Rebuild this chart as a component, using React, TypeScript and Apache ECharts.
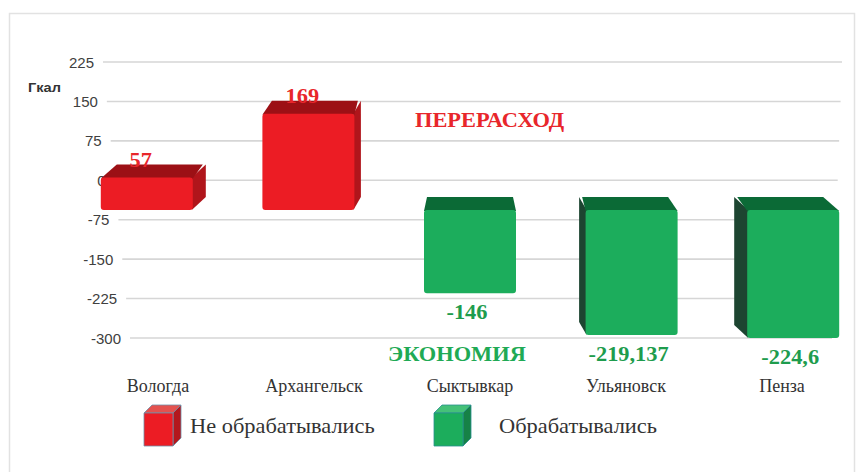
import React, { useEffect, useRef } from 'react';
import * as echarts from 'echarts';

const categories = ['Вологда', 'Архангельск', 'Сыктывкар', 'Ульяновск', 'Пенза'];
const values = [57, 169, -146, -219.137, -224.6];
const seriesNames = ['Не обрабатывались', 'Обрабатывались'];
const yTicks = [225, 150, 75, 0, -75, -150, -225, -300];
const yMin = -300;
const yMax = 225;
const yStep = 75;
const unitLabel = 'Гкал';
const overLabel = 'ПЕРЕРАСХОД';
const saveLabel = 'ЭКОНОМИЯ';

const RED = { front: '#EC1C24', top: '#9C1015', side: '#B0151B', label: '#E8262B', cubeTop: '#E4524F', cubeSide: '#B3171D', edge: '#6F8FA8' };
const GREEN = { front: '#1CAD5C', top: '#0B6A36', side: '#1D4531', label: '#1E9C4D', cubeTop: '#45C178', cubeSide: '#168246', edge: '#2A8F8F' };

const SERIF = '"Liberation Serif", "Times New Roman", serif';
const SANS = '"Liberation Sans", Arial, sans-serif';
const STRETCH = 1.12;

const fmt = (v: number) => String(v).replace('.', ',');

const makeRender = (pal: typeof RED) => (params: any, api: any) => {
  const i = api.value(0);
  const v = api.value(1);
  const c0 = api.coord([i, 0]);
  const c1 = api.coord([i, v]);
  const cx = c0[0] + (i - 2) * 5.6;
  const hw = 46;
  const x0 = cx - hw;
  const x1 = cx + hw;
  const yTop = Math.min(c0[1], c1[1]);
  const yBot = Math.max(c0[1], c1[1]);
  const ox = (2 - i) * 6.5;
  const oy = -13;
  const children: any[] = [];
  if (ox > 0) {
    children.push({
      type: 'polygon',
      shape: { points: [[x1 - 1, yTop], [x1 + ox, yTop + oy], [x1 + ox, yBot + oy], [x1 - 1, yBot]] },
      style: { fill: pal.side },
    });
  } else if (ox < 0) {
    children.push({
      type: 'polygon',
      shape: { points: [[x0 + 1, yTop], [x0 + ox, yTop + oy], [x0 + ox, yBot + oy], [x0 + 1, yBot]] },
      style: { fill: pal.side },
    });
  }
  children.push({
    type: 'polygon',
    shape: { points: [[x0, yTop + 1], [x0 + ox + 3, yTop + oy], [x1 + ox - 3, yTop + oy], [x1, yTop + 1]] },
    style: { fill: pal.top },
  });
  children.push({
    type: 'rect',
    shape: { x: x0, y: yTop, width: x1 - x0, height: yBot - yTop, r: 3 },
    style: { fill: pal.front },
  });
  const pos = v >= 0;
  children.push({
    type: 'text',
    x: cx - (pos ? 6 : 3),
    y: pos ? yTop + oy - 4 : yBot + 19,
    scaleX: STRETCH,
    style: {
      text: fmt(v),
      x: 0,
      y: 0,
      fill: pal.label,
      font: `bold 20px ${SERIF}`,
      align: 'center',
      verticalAlign: 'middle',
    },
  });
  return { type: 'group', children };
};

// back wall in perspective: gridlines shift right as values go down
const renderWall = (params: any, api: any) => {
  const v = api.value(0);
  const p = api.coord([0, v]);
  const cs = params.coordSys;
  const t = (yMax - v) / (yMax - yMin);
  const xs = cs.x + t * 27;
  const xe = cs.x + cs.width - t * 10;
  return {
    type: 'group',
    children: [
      { type: 'line', shape: { x1: xs, y1: p[1], x2: xe, y2: p[1] }, style: { stroke: '#d6d6d6', lineWidth: 1.6 } },
      {
        type: 'text',
        style: { text: String(v), x: xs - 9, y: p[1], fill: '#404040', font: `15px ${SANS}`, align: 'right', verticalAlign: 'middle' },
      },
    ],
  };
};

const cube = (x: number, y: number, pal: typeof RED) => ({
  type: 'group',
  x,
  y,
  children: [
    { type: 'polygon', shape: { points: [[0, 8], [8, 0], [37, 0], [29, 8]] }, style: { fill: pal.cubeTop, stroke: pal.edge, lineWidth: 0.8 } },
    { type: 'polygon', shape: { points: [[29, 8], [37, 0], [37, 33], [29, 41]] }, style: { fill: pal.cubeSide, stroke: pal.edge, lineWidth: 0.8 } },
    { type: 'rect', shape: { x: 0, y: 8, width: 29, height: 33 }, style: { fill: pal.front, stroke: pal.edge, lineWidth: 0.8 } },
  ],
});

export default function App() {
  const ref = useRef<HTMLDivElement>(null);
  useEffect(() => {
    if (!ref.current) return;
    const chart = echarts.init(ref.current, null, { renderer: 'svg' });
    const posData = values.map((v, i) => [i, v]).filter((d) => d[1] >= 0);
    const negData = values.map((v, i) => [i, v]).filter((d) => d[1] < 0);
    chart.setOption({
      animation: false,
      backgroundColor: '#ffffff',
      grid: [
        { left: 103, right: 18, top: 62, bottom: 134 },
        { left: 80, width: 788, top: 81.75, bottom: 102.4 },
      ],
      xAxis: [
        { type: 'value', gridIndex: 0, show: false, min: 0, max: 1 },
        {
          type: 'category',
          gridIndex: 1,
          data: categories,
          axisLine: { show: false },
          axisTick: { show: false },
          axisLabel: { color: '#333333', fontFamily: SERIF, fontSize: 18, margin: 7 },
          splitLine: { show: false },
        },
      ],
      yAxis: [
        {
          type: 'value',
          gridIndex: 0,
          min: yMin,
          max: yMax,
          interval: yStep,
          axisLine: { show: false },
          axisTick: { show: false },
          axisLabel: { show: false },
          splitLine: { show: false },
        },
        { type: 'value', gridIndex: 1, min: -280, max: 225, show: false, splitLine: { show: false } },
      ],
      series: [
        {
          name: 'wall',
          type: 'custom',
          xAxisIndex: 0,
          yAxisIndex: 0,
          data: yTicks.map((v) => [v]),
          encode: { y: 0 },
          renderItem: renderWall,
          silent: true,
          z: 1,
        },
        {
          name: seriesNames[0],
          type: 'custom',
          xAxisIndex: 1,
          yAxisIndex: 1,
          data: posData,
          encode: { x: 0, y: 1 },
          renderItem: makeRender(RED),
          z: 5,
        },
        {
          name: seriesNames[1],
          type: 'custom',
          xAxisIndex: 1,
          yAxisIndex: 1,
          data: negData,
          encode: { x: 0, y: 1 },
          renderItem: makeRender(GREEN),
          z: 5,
        },
      ],
      graphic: [
        { type: 'rect', shape: { x: 9.5, y: 13.5, width: 845, height: 480 }, style: { fill: 'none', stroke: '#e2e2e2', lineWidth: 1.5 }, z: 0 },
        { type: 'text', x: 28, y: 88, scaleX: STRETCH, style: { text: unitLabel, font: `bold 13px ${SANS}`, fill: '#333333', verticalAlign: 'middle' } },
        { type: 'text', x: 415, y: 120, scaleX: STRETCH, style: { text: overLabel, font: `bold 20px ${SERIF}`, fill: '#E8262B', verticalAlign: 'middle' } },
        { type: 'text', x: 388, y: 354, scaleX: STRETCH, style: { text: saveLabel, font: `bold 20px ${SERIF}`, fill: '#1FAA55', verticalAlign: 'middle' } },
        cube(144, 405, RED),
        { type: 'text', x: 190, y: 426, scaleX: STRETCH, style: { text: seriesNames[0], font: `20px ${SERIF}`, fill: '#333333', verticalAlign: 'middle' } },
        cube(434, 405, GREEN),
        { type: 'text', x: 499, y: 426, scaleX: STRETCH, style: { text: seriesNames[1], font: `20px ${SERIF}`, fill: '#333333', verticalAlign: 'middle' } },
      ],
    });
    return () => chart.dispose();
  }, []);
  return <div ref={ref} style={{ position: 'fixed', left: 0, top: 0, width: 860, height: 472 }} />;
}
